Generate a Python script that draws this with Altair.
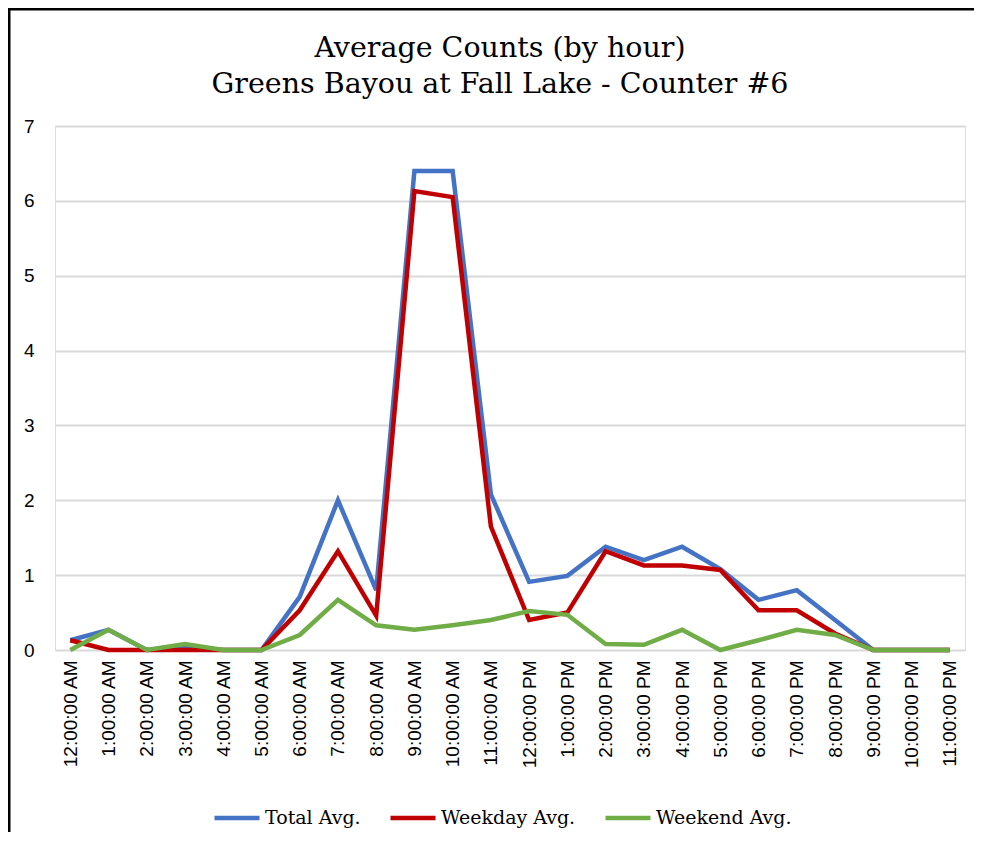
import altair as alt
import pandas as pd

hours = ["12:00:00 AM", "1:00:00 AM", "2:00:00 AM", "3:00:00 AM", "4:00:00 AM", "5:00:00 AM",
         "6:00:00 AM", "7:00:00 AM", "8:00:00 AM", "9:00:00 AM", "10:00:00 AM", "11:00:00 AM",
         "12:00:00 PM", "1:00:00 PM", "2:00:00 PM", "3:00:00 PM", "4:00:00 PM", "5:00:00 PM",
         "6:00:00 PM", "7:00:00 PM", "8:00:00 PM", "9:00:00 PM", "10:00:00 PM", "11:00:00 PM"]

total_avg = [0.13, 0.27, 0.0, 0.03, 0.0, 0.0, 0.71, 2.0, 0.8, 6.4, 6.4, 2.08,
             0.91, 0.99, 1.38, 1.2, 1.38, 1.08, 0.67, 0.8, 0.4, 0.0, 0.0, 0.0]
weekday_avg = [0.13, 0.0, 0.0, 0.0, 0.0, 0.0, 0.53, 1.32, 0.46, 6.13, 6.05, 1.65,
               0.4, 0.5, 1.32, 1.13, 1.13, 1.07, 0.53, 0.53, 0.22, 0.0, 0.0, 0.0]
weekend_avg = [0.0, 0.27, 0.0, 0.08, 0.0, 0.0, 0.2, 0.67, 0.33, 0.27, 0.33, 0.4,
               0.52, 0.47, 0.08, 0.07, 0.27, 0.0, 0.13, 0.27, 0.2, 0.0, 0.0, 0.0]

series_names = ["Total Avg.", "Weekday Avg.", "Weekend Avg."]
series_colors = ["#4472C4", "#C00000", "#70AD47"]
y_ticks = [0, 1, 2, 3, 4, 5, 6, 7]
title_lines = ["Average Counts (by hour)", "Greens Bayou at Fall Lake - Counter #6"]

rows = []
for name, vals in zip(series_names, [total_avg, weekday_avg, weekend_avg]):
    for h, v in zip(hours, vals):
        rows.append({"hour": h, "value": v, "series": name})
df = pd.DataFrame(rows)

W, H = 910, 524

lines = alt.Chart(df).mark_line(strokeWidth=4.5).encode(
    x=alt.X("hour:N", sort=hours, scale=alt.Scale(type="point", padding=0.4),
            axis=alt.Axis(title=None, labelAngle=-90, labelFont="Liberation Sans",
                          labelFontSize=19, labelColor="#000", ticks=False, domain=False,
                          labelPadding=10, grid=False)),
    y=alt.Y("value:Q", scale=alt.Scale(domain=[0, 7], nice=False),
            axis=alt.Axis(title=None, values=y_ticks, grid=True, gridColor="#d9d9d9",
                          gridWidth=2, domain=False, ticks=False, labelFont="Liberation Sans",
                          labelFontSize=19, labelColor="#000", labelPadding=21)),
    color=alt.Color("series:N", scale=alt.Scale(domain=series_names, range=series_colors),
                    legend=alt.Legend(title=None, orient="none", legendX=157, legendY=667,
                                      direction="horizontal", symbolType="stroke",
                                      symbolSize=2025, symbolStrokeWidth=4.5,
                                      labelFont="DejaVu Serif", labelFontSize=19,
                                      labelColor="#000", labelOffset=3, columnPadding=20)),
)

# chart frame: left and top edges as thin filled bars
frame_left = alt.Chart(pd.DataFrame({"k": [0]})).mark_rect(color="#000").encode(
    x=alt.value(-47), x2=alt.value(-44.5), y=alt.value(-118), y2=alt.value(H + 300)
)
frame_top = alt.Chart(pd.DataFrame({"k": [0]})).mark_rect(color="#000").encode(
    x=alt.value(-47), x2=alt.value(W + 9), y=alt.value(-118), y2=alt.value(-115.5)
)

chart = alt.layer(frame_left, frame_top, lines).properties(
    width=W, height=H,
    title=alt.TitleParams(text=title_lines, font="DejaVu Serif", fontSize=28.5,
                          fontWeight="normal", color="#000", anchor="middle", dx=-10,
                          offset=10, dy=100, lineHeight=36),
    autosize=alt.AutoSizeParams(type="none"),
    padding={"left": 47, "top": 118, "right": 9, "bottom": 182},
).configure_view(stroke=None).configure(background="white")

chart.save("out.html", embed_options={"renderer": "svg", "actions": False})
